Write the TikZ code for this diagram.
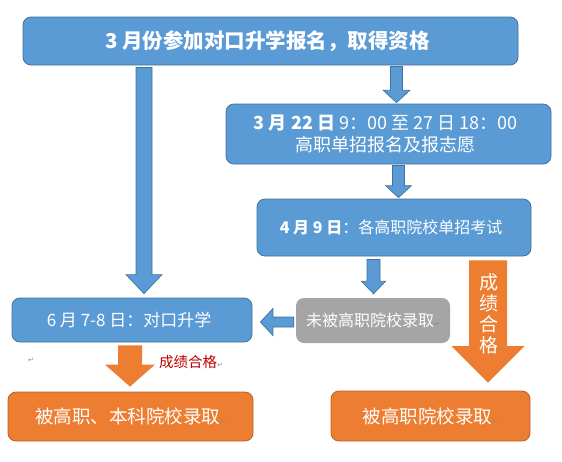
\documentclass[tikz,border=0pt]{standalone}
\usepackage{fontspec}
\setmainfont{Noto Sans CJK SC}
\newfontfamily\symfont{DejaVu Sans}
\usetikzlibrary{calc}
\definecolor{blu}{HTML}{5B9BD5}
\definecolor{bluD}{HTML}{41719C}
\definecolor{org}{HTML}{ED7D31}
\definecolor{orgD}{HTML}{B8612A}
\definecolor{gry}{HTML}{A5A5A5}
\definecolor{redt}{HTML}{C00000}
\definecolor{markc}{HTML}{8C8C8C}
\newcommand\parmark{{\symfont\fontsize{7pt}{7pt}\selectfont\textcolor{markc}{↵}}}
% block arrow pointing down: #1 start, #2 tip, #3 half body, #4 half head, #5 head length, #6 style
\newcommand\blkdown[6]{\path[#6] let \p1=(#1), \p2=(#2) in
  (\x1-#3,\y1) -- (\x1+#3,\y1) -- (\x1+#3,\y2+#5) -- (\x1+#4,\y2+#5) -- (\x1,\y2)
  -- (\x1-#4,\y2+#5) -- (\x1-#3,\y2+#5) -- cycle;}
\tikzset{
  bbox/.style={rounded corners=8pt, draw=bluD, fill=blu, line width=0.8pt, text=white, align=center, inner sep=0pt},
  obox/.style={rounded corners=8pt, draw=orgD, fill=org, line width=0.8pt, text=white, align=center, inner sep=0pt},
  gbox/.style={rounded corners=8pt, fill=gry, text=white, align=center, inner sep=0pt},
  barrow/.style={fill=blu, draw=bluD, line width=0.7pt},
  oarrow/.style={fill=org},
}
\begin{document}
\begin{tikzpicture}[x=1pt,y=-1pt]
\useasboundingbox (0,0) rectangle (562,461);
% boxes
\node[bbox, minimum width=495pt, minimum height=48pt, font=\fontsize{20.5pt}{24pt}\selectfont\bfseries] (top) at (270.5,41)
  {3 月份参加对口升学报名，取得资格\parmark};
\node[bbox, minimum width=325pt, minimum height=60pt, font=\fontsize{18pt}{22pt}\selectfont] (reg) at (388.5,134)
  {\textbf{3 月 22 日} 9：00 至 27 日 18：00\parmark\\高职单招报名及报志愿\parmark};
\node[bbox, minimum width=274pt, minimum height=57pt, font=\fontsize{16pt}{20pt}\selectfont] (exam) at (394,227.5)
  {\textbf{4 月 9 日}：各高职院校单招考试\parmark};
\node[gbox, minimum width=154pt, minimum height=45pt, font=\fontsize{16pt}{20pt}\selectfont] (fail) at (373,320.5)
  {未被高职院校录取\parmark};
\node[bbox, minimum width=240pt, minimum height=44pt, font=\fontsize{17pt}{20pt}\selectfont] (dk) at (132,320)
  {6 月 7-8 日：对口升学\parmark};
\node[obox, minimum width=245pt, minimum height=49pt, font=\fontsize{18.5pt}{22pt}\selectfont] (resL) at (130.5,416.5)
  {被高职、本科院校录取\parmark};
\node[obox, minimum width=199pt, minimum height=50pt, font=\fontsize{18.5pt}{22pt}\selectfont] (resR) at (430.5,416)
  {被高职院校录取\parmark};
% helper x positions
\coordinate (x1) at (396.5,0);
\coordinate (x2) at (398.5,0);
\coordinate (x3) at (373.5,0);
\coordinate (x4) at (144,0);
\coordinate (x6) at (488,0);
\coordinate (x7) at (130,0);
% arrows
\blkdown{[yshift=-1pt]top.south -| x1}{[yshift=1pt]reg.north -| x1}{6pt}{13.5pt}{12.5pt}{barrow}
\blkdown{[yshift=-1pt]reg.south -| x2}{[yshift=1pt]exam.north -| x2}{6pt}{13pt}{12pt}{barrow}
\blkdown{[yshift=-3pt]exam.south -| x3}{[yshift=4pt]fail.north -| x3}{6.5pt}{12pt}{12.5pt}{barrow}
\blkdown{[yshift=-2pt]top.south -| x4}{[yshift=4pt]dk.north -| x4}{8pt}{18pt}{19pt}{barrow}
\blkdown{[yshift=-4pt]exam.south -| x6}{[yshift=8pt]resR.north -| x6}{19pt}{36.5pt}{36.5pt}{oarrow}
\blkdown{[yshift=-3pt]dk.south -| x7}{[yshift=5pt]resL.north -| x7}{12pt}{25pt}{22pt}{oarrow}
\path[barrow] let \p1=([xshift=-2pt,yshift=-1.5pt]fail.west), \p2=([xshift=8pt]dk.east) in
  (\x1,\y1+5pt) -- (\x2+12.5pt,\y1+5pt) -- (\x2+12.5pt,\y1+13.5pt) -- (\x2,\y1)
  -- (\x2+12.5pt,\y1-13.5pt) -- (\x2+12.5pt,\y1-5pt) -- (\x1,\y1-5pt) -- cycle;
% labels
\node[text=white, align=center, inner sep=0pt, font=\fontsize{19pt}{21pt}\selectfont] (vlab) at (489,313.5)
  {成\\绩\\合\\格\rlap{\parmark}};
\node[text=redt, anchor=west, inner sep=0pt, font=\fontsize{14.5pt}{17pt}\selectfont] (rlab) at (159,362)
  {成绩合格\parmark};
\node[inner sep=0pt] (pm) at (31,360) {\parmark};
\end{tikzpicture}
\end{document}
